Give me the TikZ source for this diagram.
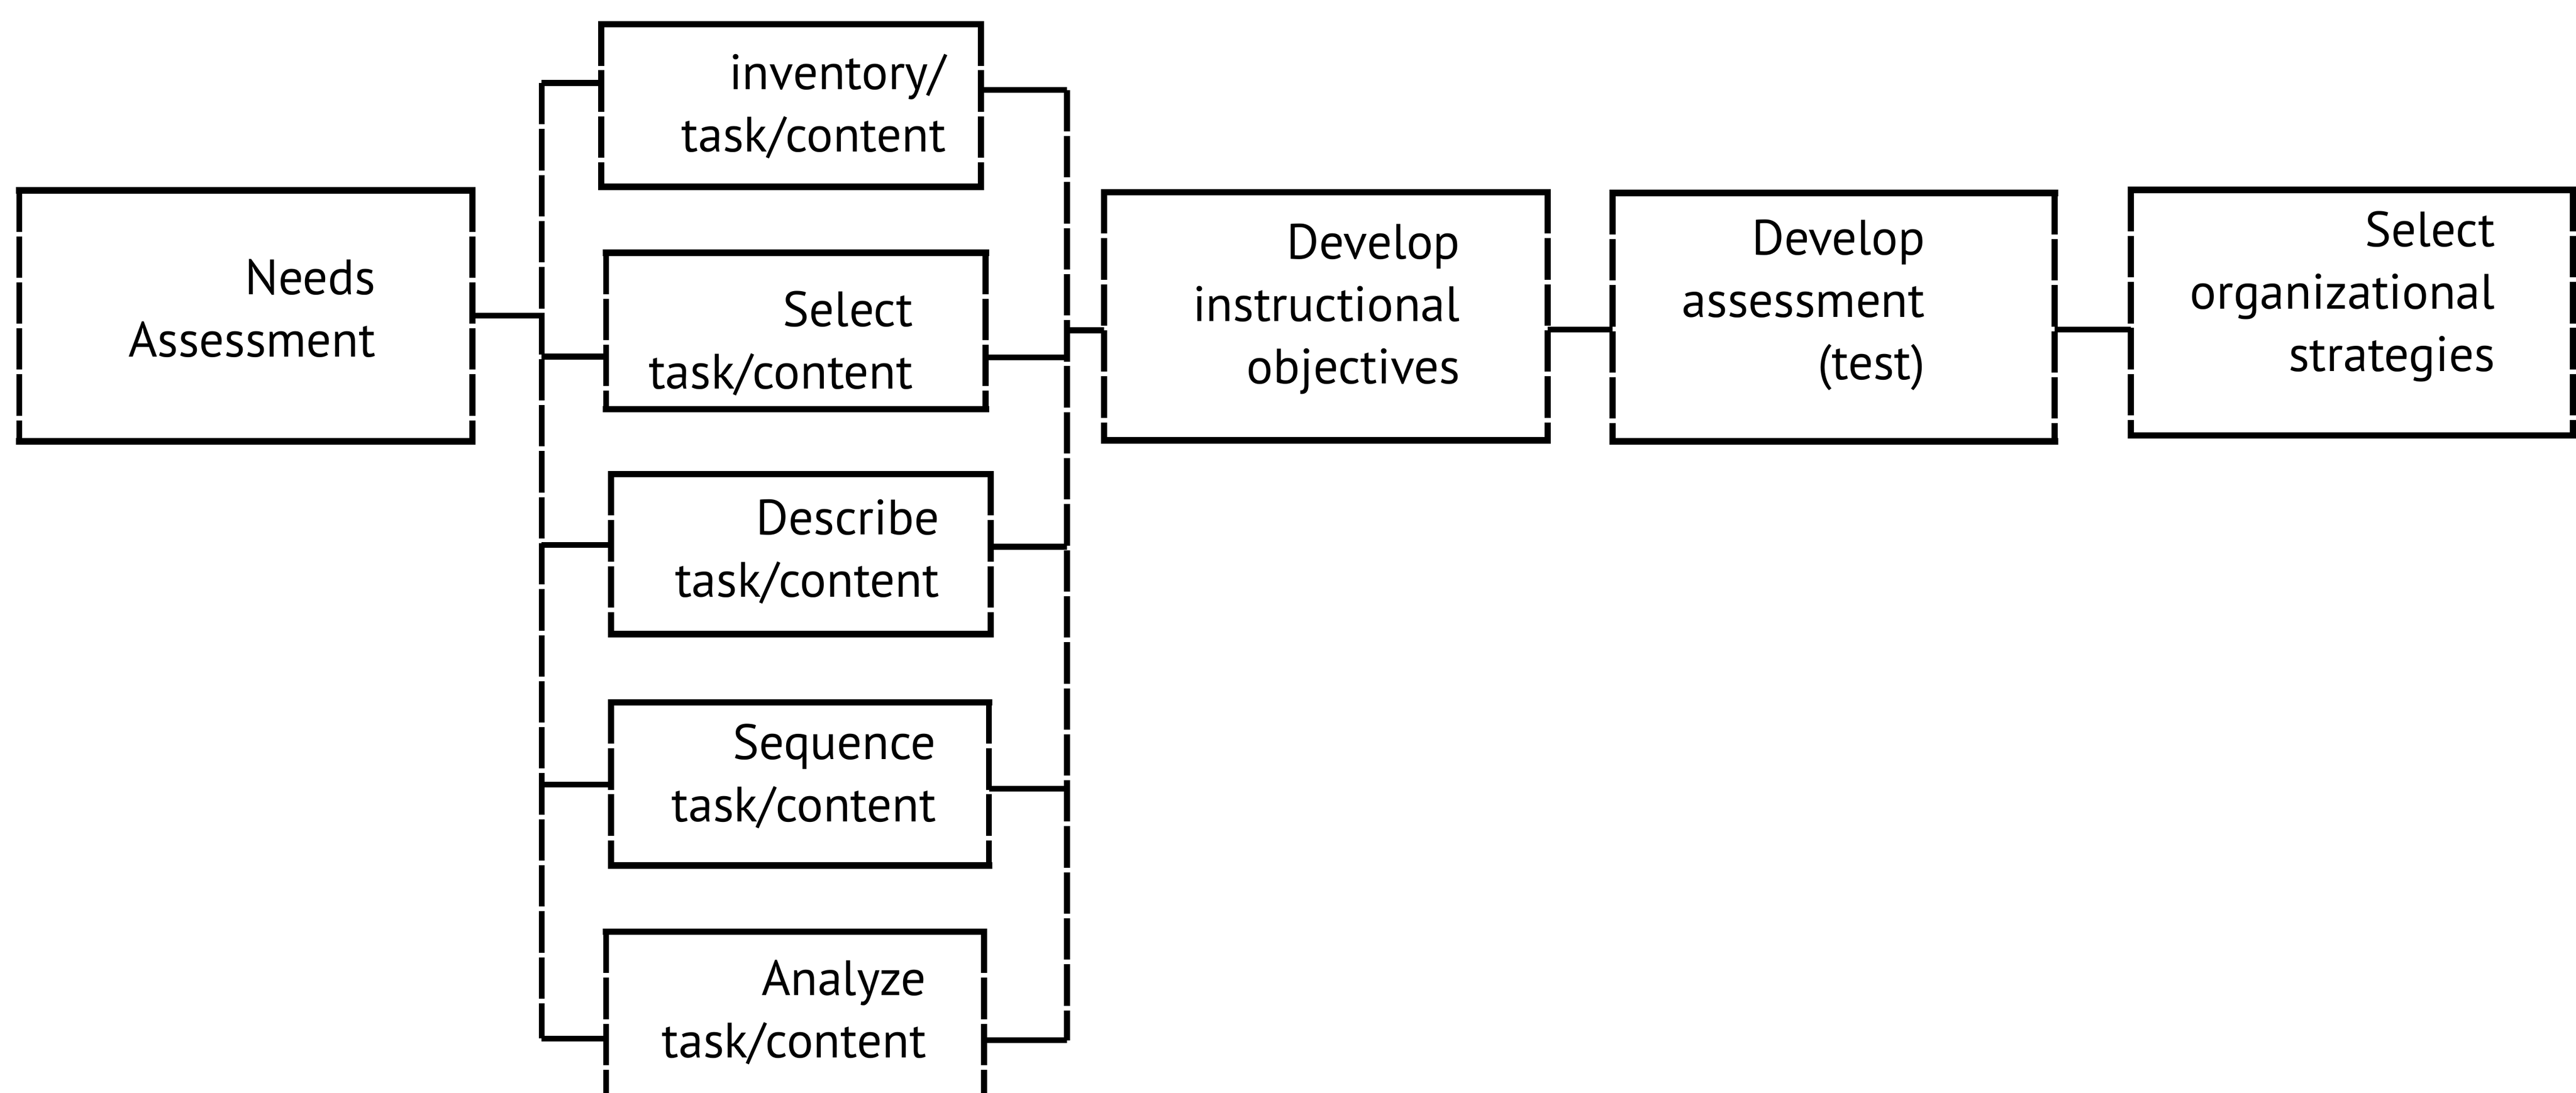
\documentclass[tikz,border=0pt]{standalone}
\usepackage{fontspec}
\setmainfont{PT Sans}
\usetikzlibrary{fit}
\tikzset{
  boxn/.style={draw=none, inner sep=0pt, outer sep=0pt},
  hline/.style={line width=2.8pt, line cap=rect},
  vline/.style={line width=2.6pt, dash pattern=on 6.3mm off 0.7mm},
  conn/.style={line width=2.5pt},
  lbl/.style={align=right, inner sep=0pt, font=\fontsize{21.5}{27}\selectfont}
}
\newcommand{\mkframe}[1]{%
  \draw[hline] (#1.north west) -- (#1.north east);
  \draw[hline] (#1.south west) -- (#1.south east);
  \draw[vline] (#1.north west) -- (#1.south west);
  \draw[vline] (#1.north east) -- (#1.south east);
}
\begin{document}
\begin{tikzpicture}[x=0.25mm, y=-0.25mm]
\useasboundingbox (0,0) rectangle (1568,664.9);

% boxes
\node[boxn, fit={(11.8,115.8) (287.6,268.6)}] (needs) {};
\node[boxn, fit={(366,14.8) (597,113.7)}] (inv) {};
\node[boxn, fit={(369,153.8) (600,249)}] (sel) {};
\node[boxn, fit={(372,288.5) (603,385.8)}] (desc) {};
\node[boxn, fit={(372,427.4) (602,526.7)}] (seq) {};
\node[boxn, fit={(369,567) (599,667)}] (ana) {};
\node[boxn, fit={(672,117) (942,268)}] (obj) {};
\node[boxn, fit={(981.6,117.5) (1250.7,268.6)}] (ass) {};
\node[boxn, fit={(1297,115.6) (1566,265)}] (org) {};
\mkframe{needs}
\mkframe{inv}
\mkframe{sel}
\mkframe{desc}
\mkframe{seq}
\mkframe{ana}
\mkframe{obj}
\mkframe{ass}
\mkframe{org}

% labels
\node[lbl, anchor=east] (needs-t) at (229,187.5) {Needs\\Assessment};
\node[lbl, anchor=east] (inv-t) at (576,64.8) {inventory/\\task/content};
\node[lbl, anchor=east] (sel-t) at (556,209) {Select\\task/content};
\node[lbl, anchor=east] (desc-t) at (572,335.6) {Describe\\task/content};
\node[lbl, anchor=east] (seq-t) at (570,472.4) {Sequence\\task/content};
\node[lbl, anchor=east] (ana-t) at (564,616) {Analyze\\task/content};
\node[lbl, anchor=east] (obj-t) at (889,188) {Develop\\instructional\\objectives};
\node[lbl, anchor=east] (ass-t) at (1172,185.5) {Develop\\assessment\\(test)};
\node[lbl, anchor=east] (org-t) at (1519,180.5) {Select\\organizational\\strategies};

% left bus
\coordinate (L1) at (329.7,50.5);
\coordinate (L2) at (329.7,217);
\coordinate (L3) at (329.7,331.6);
\coordinate (L4) at (329.7,477.5);
\coordinate (L5) at (329.7,632);
\draw[vline] (L1) -- (L5);
\draw[conn] (needs.east) -- (needs.east -| L1);
\draw[conn] (L1) -- (inv.west |- L1);
\draw[conn] (L2) -- (sel.west |- L2);
\draw[conn] (L3) -- (desc.west |- L3);
\draw[conn] (L4) -- (seq.west |- L4);
\draw[conn] (L5) -- (ana.west |- L5);

% right bus
\coordinate (R1) at (649.5,54.8);
\coordinate (R2) at (649.5,217.6);
\coordinate (R3) at (649.5,332.7);
\coordinate (R4) at (649.5,480);
\coordinate (R5) at (649.5,633);
\coordinate (R0) at (649.5,201);
\draw[vline] (R1) -- (R5);
\draw[conn] (inv.east |- R1) -- (R1);
\draw[conn] (sel.east |- R2) -- (R2);
\draw[conn] (desc.east |- R3) -- (R3);
\draw[conn] (seq.east |- R4) -- (R4);
\draw[conn] (ana.east |- R5) -- (R5);

% main chain
\coordinate (M) at (0,200.5);
\draw[conn] (R0) -- (obj.west |- R0);
\draw[conn] (obj.east |- M) -- (ass.west |- M);
\draw[conn] (ass.east |- M) -- (org.west |- M);
\end{tikzpicture}
\end{document}
